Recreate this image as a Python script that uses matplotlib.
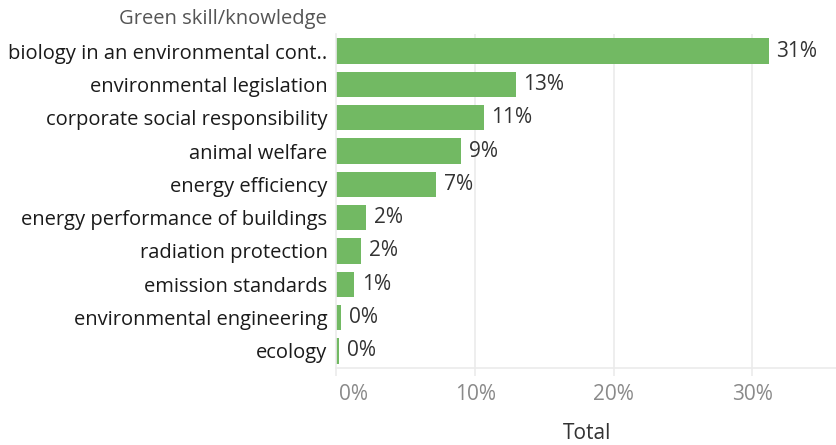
import matplotlib.pyplot as plt
import matplotlib.transforms as mtransforms

skills = [
    "biology in an environmental cont..",
    "environmental legislation",
    "corporate social responsibility",
    "animal welfare",
    "energy efficiency",
    "energy performance of buildings",
    "radiation protection",
    "emission standards",
    "environmental engineering",
    "ecology",
]
share = [31.18, 12.92, 10.63, 8.98, 7.17, 2.13, 1.77, 1.26, 0.32, 0.18]
ticks = [0, 10, 20, 30]
tick_labels = ["0%", "10%", "20%", "30%"]

plt.rcParams["font.family"] = ["Open Sans", "DejaVu Sans"]

bar_color = "#72b963"
grid_color = "#ebebeb"

fig = plt.figure(figsize=(8.37, 4.45), dpi=100)
ax = fig.add_axes([0.402, 0.174, 0.598, 0.7485])

pos = list(range(len(skills)))
ax.barh(pos, share, height=0.76, color=bar_color, zorder=2)
ax.set_ylim(len(skills) - 0.5, -0.5)
ax.set_xlim(0, 36.1)

for p, v in zip(pos, share):
    ax.annotate(f"{v:.0f}%", (v, p), xytext=(5.5, 0), textcoords="offset points",
                va="center", ha="left", fontsize=15, color="#333333")

ax.set_yticks(pos)
ax.set_yticklabels(skills, fontsize=14.5, color="#1a1a1a")
ax.tick_params(axis="y", length=0, pad=6.5)

ax.set_xticks(ticks)
ax.set_xticklabels(tick_labels, fontsize=15, color="#8a8a8a")
ax.tick_params(axis="x", length=6, color=grid_color, width=1.2, pad=6)
lbl0 = ax.get_xticklabels()[0]
lbl0.set_ha("left")
lbl0.set_transform(lbl0.get_transform() + mtransforms.ScaledTranslation(3 / 100, 0, fig.dpi_scale_trans))

for t in ticks[1:]:
    ax.axvline(t, color=grid_color, lw=1.2, zorder=0)

for s in ["top", "right"]:
    ax.spines[s].set_visible(False)
ax.spines["left"].set_color(grid_color)
ax.spines["left"].set_linewidth(1.2)
ax.spines["bottom"].set_color(grid_color)
ax.spines["bottom"].set_linewidth(1.2)

ax.set_xlabel("Total", fontsize=15, color="#333333", labelpad=13)

fig.text(327 / 837, 1 - 19 / 445, "Green skill/knowledge", ha="right", va="center",
         fontsize=14.5, color="#555555")

fig.savefig("out.png", dpi=100)
